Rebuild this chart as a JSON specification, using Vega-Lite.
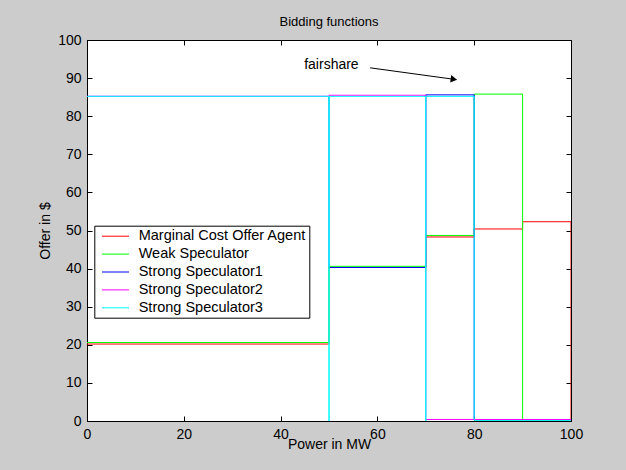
{
  "$schema": "https://vega.github.io/schema/vega-lite/v6.json",
  "width": 484,
  "height": 381,
  "autosize": {"type": "none"},
  "padding": {"left": 87, "top": 40, "right": 55, "bottom": 49},
  "background": "#cccccc",
  "config": {
    "view": {"fill": "white", "stroke": "black", "strokeWidth": 1},
    "font": "Liberation Sans",
    "axis": {
      "grid": false,
      "domainColor": "black",
      "tickColor": "black",
      "labelColor": "black",
      "titleColor": "black",
      "labelFont": "Liberation Sans",
      "titleFont": "Liberation Sans",
      "labelFontSize": 14,
      "titleFontSize": 14,
      "titleFontWeight": "normal",
      "tickSize": -5,
      "labelPadding": 11,
      "labelFlush": false
    }
  },
  "title": {
    "text": "Bidding functions",
    "font": "Liberation Sans",
    "fontSize": 13,
    "fontWeight": "normal",
    "color": "black",
    "anchor": "middle",
    "frame": "group",
    "baseline": "alphabetic",
    "offset": -6
  },
  "layer": [
    {
      "encoding": {
        "x": {
          "field": "x",
          "type": "quantitative",
          "scale": {"domain": [0, 100], "nice": false},
          "axis": {"values": [0, 20, 40, 60, 80, 100], "title": "Power in MW", "titlePadding": -4}
        },
        "y": {
          "field": "y",
          "type": "quantitative",
          "scale": {"domain": [0, 100], "nice": false},
          "axis": {"values": [0, 10, 20, 30, 40, 50, 60, 70, 80, 90, 100], "title": "Offer in $", "titlePadding": 5}
        }
      },
      "layer": [
        {
          "data": {
            "values": [
              {"s": "Marginal Cost Offer Agent", "o": 1, "x": 0, "y": 20.2},
              {"s": "Marginal Cost Offer Agent", "o": 2, "x": 50, "y": 20.2},
              {"s": "Marginal Cost Offer Agent", "o": 3, "x": 50, "y": 40.3},
              {"s": "Marginal Cost Offer Agent", "o": 4, "x": 70, "y": 40.3},
              {"s": "Marginal Cost Offer Agent", "o": 5, "x": 70, "y": 48.3},
              {"s": "Marginal Cost Offer Agent", "o": 6, "x": 80, "y": 48.3},
              {"s": "Marginal Cost Offer Agent", "o": 7, "x": 80, "y": 50.4},
              {"s": "Marginal Cost Offer Agent", "o": 8, "x": 90, "y": 50.4},
              {"s": "Marginal Cost Offer Agent", "o": 9, "x": 90, "y": 52.3},
              {"s": "Marginal Cost Offer Agent", "o": 10, "x": 100, "y": 52.3},
              {"s": "Marginal Cost Offer Agent", "o": 11, "x": 100, "y": 0},
              {"s": "Weak Speculator", "o": 1, "x": 0, "y": 20.6},
              {"s": "Weak Speculator", "o": 2, "x": 50, "y": 20.6},
              {"s": "Weak Speculator", "o": 3, "x": 50, "y": 40.6},
              {"s": "Weak Speculator", "o": 4, "x": 70, "y": 40.6},
              {"s": "Weak Speculator", "o": 5, "x": 70, "y": 48.7},
              {"s": "Weak Speculator", "o": 6, "x": 80, "y": 48.7},
              {"s": "Weak Speculator", "o": 7, "x": 80, "y": 85.8},
              {"s": "Weak Speculator", "o": 8, "x": 90, "y": 85.8},
              {"s": "Weak Speculator", "o": 9, "x": 90, "y": 0},
              {"s": "Strong Speculator1", "o": 1, "x": 0, "y": 85.2},
              {"s": "Strong Speculator1", "o": 2, "x": 50, "y": 85.2},
              {"s": "Strong Speculator1", "o": 3, "x": 50, "y": 40.3},
              {"s": "Strong Speculator1", "o": 4, "x": 70, "y": 40.3},
              {"s": "Strong Speculator1", "o": 5, "x": 70, "y": 85.6},
              {"s": "Strong Speculator1", "o": 6, "x": 80, "y": 85.6},
              {"s": "Strong Speculator1", "o": 7, "x": 80, "y": 0.25},
              {"s": "Strong Speculator1", "o": 8, "x": 100, "y": 0.25},
              {"s": "Strong Speculator2", "o": 1, "x": 0, "y": 85.2},
              {"s": "Strong Speculator2", "o": 2, "x": 50, "y": 85.2},
              {"s": "Strong Speculator2", "o": 3, "x": 50, "y": 85.5},
              {"s": "Strong Speculator2", "o": 4, "x": 70, "y": 85.5},
              {"s": "Strong Speculator2", "o": 5, "x": 70, "y": 0.4},
              {"s": "Strong Speculator2", "o": 6, "x": 100, "y": 0.4},
              {"s": "Strong Speculator3", "o": 1, "x": 0, "y": 85.2},
              {"s": "Strong Speculator3", "o": 2, "x": 50, "y": 85.2},
              {"s": "Strong Speculator3", "o": 3, "x": 50, "y": 0},
              {"s": "Strong Speculator3", "o": 4, "x": 50, "y": 85.2},
              {"s": "Strong Speculator3", "o": 5, "x": 70, "y": 85.2},
              {"s": "Strong Speculator3", "o": 6, "x": 70, "y": 0},
              {"s": "Strong Speculator3", "o": 7, "x": 70, "y": 85.2},
              {"s": "Strong Speculator3", "o": 8, "x": 80, "y": 85.2},
              {"s": "Strong Speculator3", "o": 9, "x": 80, "y": 0.1},
              {"s": "Strong Speculator3", "o": 10, "x": 100, "y": 0.1}
            ]
          },
          "mark": {"type": "line", "strokeWidth": 1, "clip": true},
          "encoding": {
            "color": {
              "field": "s",
              "type": "nominal",
              "scale": {
                "domain": ["Marginal Cost Offer Agent", "Weak Speculator", "Strong Speculator1", "Strong Speculator2", "Strong Speculator3"],
                "range": ["#ff0000", "#00ff00", "#0000ff", "#ff00ff", "#00ffff"]
              },
              "legend": {
                "orient": "none",
                "legendX": 7.3,
                "legendY": 185.7,
                "title": null,
                "symbolType": "M-2,0H2",
                "symbolSize": 182,
                "symbolStrokeWidth": 1,
                "symbolOffset": 10.7,
                "labelOffset": 15.7,
                "labelLimit": 400,
                "labelFont": "Liberation Sans",
                "labelFontSize": 14.5,
                "labelColor": "black",
                "padding": 3,
                "rowPadding": 2.9,
                "strokeColor": "black",
                "fillColor": "white"
              }
            },
            "order": {"field": "o", "type": "quantitative"}
          }
        },
        {
          "data": {"values": [{"x": 77}]},
          "mark": {"type": "rule", "color": "black", "strokeWidth": 1, "strokeDash": [3.5, 2.5]},
          "encoding": {"y": {"datum": 0}, "y2": {"datum": 100}}
        },
        {
          "data": {"values": [{"x": 50.5, "y": 93.4, "label": "fairshare"}]},
          "mark": {"type": "text", "font": "Liberation Sans", "fontSize": 14, "color": "black", "align": "center", "baseline": "middle"},
          "encoding": {"text": {"field": "label"}}
        },
        {
          "data": {"values": [{"x": 58.5, "y": 92.7}, {"x": 76.3, "y": 89.6}]},
          "mark": {"type": "line", "color": "black", "strokeWidth": 1}
        },
        {
          "data": {"values": [{"x": 75.8, "y": 89.7}]},
          "mark": {"type": "point", "shape": "triangle-right", "filled": true, "color": "black", "opacity": 1, "size": 55, "angle": 8}
        }
      ]
    },
    {
      "data": {"values": [{"x": 0, "y": 0}]},
      "mark": {"type": "point", "opacity": 0},
      "encoding": {
        "x": {
          "field": "x",
          "type": "quantitative",
          "scale": {"domain": [0, 100], "nice": false},
          "axis": {"orient": "top", "values": [0, 20, 40, 60, 80, 100], "labels": false, "title": null}
        },
        "y": {
          "field": "y",
          "type": "quantitative",
          "scale": {"domain": [0, 100], "nice": false},
          "axis": {"orient": "right", "values": [0, 10, 20, 30, 40, 50, 60, 70, 80, 90, 100], "labels": false, "title": null}
        }
      }
    }
  ],
  "resolve": {"scale": {"x": "independent", "y": "independent"}}
}
